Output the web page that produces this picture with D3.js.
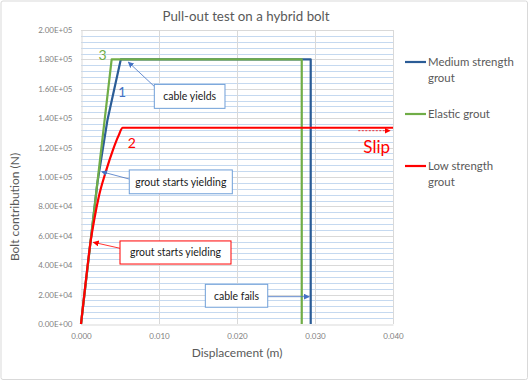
<!DOCTYPE html>
<html>
<head>
<meta charset="utf-8">
<script src="https://cdn.jsdelivr.net/npm/d3@7"></script>
<style>
  html, body { margin: 0; padding: 0; background: #ffffff; }
  svg { display: block; font-family: Lato, "Open Sans", sans-serif; }
</style>
</head>
<body>
<svg id="chart" width="529" height="381"></svg>
<script>
// ---------------- data ----------------
const chartTitle = "Pull-out test on a hybrid bolt";
const xAxisTitle = "Displacement (m)";
const yAxisTitle = "Bolt contribution (N)";

const xTicks = [0, 0.01, 0.02, 0.03, 0.04];
const xTickLabels = ["0.000", "0.010", "0.020", "0.030", "0.040"];
const yTicks = [0, 20000, 40000, 60000, 80000, 100000, 120000, 140000, 160000, 180000, 200000];
const yTickLabels = ["0.00E+00", "2.00E+04", "4.00E+04", "6.00E+04", "8.00E+04", "1.00E+05",
                     "1.20E+05", "1.40E+05", "1.60E+05", "1.80E+05", "2.00E+05"];

const seriesNames = ["Medium strength grout", "Elastic grout", "Low strength grout"];
const seriesColors = ["#2b5c96", "#70ad47", "#ff0000"];

const mediumX = [0, 0.0021, 0.0034, 0.0051, 0.02945, 0.02945];
const mediumY = [0, 96000, 139000, 180000, 180000, 0];

const elasticX = [0, 0.00393, 0.0283, 0.0283];
const elasticY = [0, 180000, 180000, 0];

const lowX = [0, 0.0007, 0.0012, 0.0017, 0.0023, 0.0032, 0.0041, 0.0048, 0.00535, 0.040];
const lowY = [0, 33000, 55000, 71000, 87000, 104000, 118500, 128000, 133500, 133500];

// annotation boxes (data coordinates: x0, x1, yTop, yBottom) with arrows (from -> to)
const boxTexts = ["cable yields", "grout starts yielding", "grout starts yielding", "cable fails"];
const boxColors = ["#6f9fd8", "#6f9fd8", "#ff0000", "#6f9fd8"];
const arrowColors = ["#4472c4", "#4472c4", "#ff0000", "#4472c4"];
const boxX0 = [0.0094, 0.00619, 0.0050, 0.01594];
const boxX1 = [0.01846, 0.0194, 0.01923, 0.02394];
const boxYTop = [163000, 104800, 56500, 27000];
const boxYBot = [146700, 88600, 40800, 11400];
const arrowFromX = [0.0094, 0.00619, 0.0050, 0.02394];
const arrowFromY = [161600, 98600, 51500, 18600];
const arrowToX = [0.00606, 0.00265, 0.00158, 0.02927];
const arrowToY = [178200, 103600, 55600, 18600];

// curve labels
const curveLabels = ["3", "1", "2"];
const curveLabelColors = ["#70ad47", "#4472c4", "#ff0000"];
const curveLabelX = [0.00278, 0.00526, 0.0065];
const curveLabelY = [183000, 157500, 122900];

// slip annotation
const slipText = "Slip";
const slipArrowX = [0.03555, 0.03962];
const slipArrowY = 131500;
const slipTextX = 0.03791;
const slipTextY = 116300;

// ---------------- drawing ----------------
const svg = d3.select("#chart");
const W = 529, H = 381;
const plot = { left: 81, right: 393, top: 30, bottom: 324 };

svg.append("rect").attr("x", 1).attr("y", 1).attr("width", W - 2.5).attr("height", H - 2.5)
  .attr("rx", 2).attr("fill", "#ffffff").attr("stroke", "#d9d9d9").attr("stroke-width", 1);

const x = d3.scaleLinear().domain([0, 0.04]).range([plot.left, plot.right]);
const y = d3.scaleLinear().domain([0, 200000]).range([plot.bottom, plot.top]);

// minor horizontal gridlines
const minorY = d3.range(0, 200001, 4000).filter(v => v % 20000 !== 0);
svg.append("g").selectAll("line").data(minorY).join("line")
  .attr("x1", plot.left).attr("x2", plot.right)
  .attr("y1", d => Math.round(y(d)) + 0.5).attr("y2", d => Math.round(y(d)) + 0.5)
  .attr("stroke", "#c5d9f0").attr("stroke-width", 1);

// major gridlines
svg.append("g").selectAll("line").data(yTicks.slice(1)).join("line")
  .attr("x1", plot.left).attr("x2", plot.right)
  .attr("y1", d => Math.round(y(d)) + 0.5).attr("y2", d => Math.round(y(d)) + 0.5)
  .attr("stroke", "#d9d9d9").attr("stroke-width", 1);
svg.append("g").selectAll("line").data(xTicks.slice(1)).join("line")
  .attr("x1", d => Math.round(x(d)) + 0.5).attr("x2", d => Math.round(x(d)) + 0.5)
  .attr("y1", plot.top).attr("y2", plot.bottom)
  .attr("stroke", "#d9d9d9").attr("stroke-width", 1);

// axes
const yAxis = d3.axisLeft(y).tickValues(yTicks).tickSize(0).tickPadding(9)
  .tickFormat((d, i) => yTickLabels[i]);
const gy = svg.append("g").attr("transform", `translate(${plot.left + 0.5},0)`).call(yAxis);
gy.select(".domain").attr("stroke", "#d9d9d9");
gy.selectAll("text").attr("fill", "#7f7f7f").attr("font-size", 8).attr("font-family", "Lato, sans-serif");

const xAxis = d3.axisBottom(x).tickValues(xTicks).tickSize(0).tickPadding(9)
  .tickFormat((d, i) => xTickLabels[i]);
const gx = svg.append("g").attr("transform", `translate(0,${plot.bottom + 0.5})`).call(xAxis);
gx.select(".domain").attr("stroke", "#d9d9d9");
gx.selectAll("text").attr("fill", "#7f7f7f").attr("font-size", 8).attr("font-family", "Lato, sans-serif");

// titles
svg.append("text").attr("x", 246).attr("y", 20.5).attr("text-anchor", "middle")
  .attr("font-size", 13.3).attr("fill", "#595959").text(chartTitle);
svg.append("text").attr("x", 237).attr("y", 357).attr("text-anchor", "middle")
  .attr("font-size", 12).attr("fill", "#595959").text(xAxisTitle);
svg.append("text").attr("transform", "translate(19,207) rotate(-90)").attr("text-anchor", "middle")
  .attr("font-size", 12).attr("fill", "#595959").text(yAxisTitle);

// series
const line = d3.line().x(d => x(d[0])).y(d => y(d[1]));
const smoothLine = d3.line().x(d => x(d[0])).y(d => y(d[1])).curve(d3.curveMonotoneX);
const series = [
  d3.zip(mediumX, mediumY),
  d3.zip(elasticX, elasticY),
  d3.zip(lowX, lowY)
];
[0, 1, 2].forEach(i => {
  svg.append("path").datum(series[i]).attr("d", i === 2 ? smoothLine : line)
    .attr("fill", "none").attr("stroke", seriesColors[i]).attr("stroke-width", 2.2)
    .attr("stroke-linejoin", "round");
});

// arrow markers
const defs = svg.append("defs");
function marker(id, color) {
  defs.append("marker").attr("id", id).attr("viewBox", "0 0 10 10")
    .attr("refX", 9).attr("refY", 5).attr("markerWidth", 6).attr("markerHeight", 6)
    .attr("orient", "auto-start-reverse").attr("markerUnits", "userSpaceOnUse")
    .append("path").attr("d", "M0,0 L10,5 L0,10 z").attr("fill", color);
}
marker("ah-blue", "#4472c4");
marker("ah-red", "#ff0000");

// annotation boxes
boxTexts.forEach((t, i) => {
  const bx0 = x(boxX0[i]), bx1 = x(boxX1[i]), by0 = y(boxYTop[i]), by1 = y(boxYBot[i]);
  svg.append("line")
    .attr("x1", x(arrowFromX[i])).attr("y1", y(arrowFromY[i]))
    .attr("x2", x(arrowToX[i])).attr("y2", y(arrowToY[i]))
    .attr("stroke", arrowColors[i]).attr("stroke-width", 0.8)
    .attr("marker-end", arrowColors[i] === "#ff0000" ? "url(#ah-red)" : "url(#ah-blue)");
  svg.append("rect").attr("x", bx0).attr("y", by0).attr("width", bx1 - bx0).attr("height", by1 - by0)
    .attr("fill", "#ffffff").attr("stroke", boxColors[i]).attr("stroke-width", 1);
  svg.append("text").attr("x", (bx0 + bx1) / 2).attr("y", (by0 + by1) / 2 + 3.8)
    .attr("text-anchor", "middle").attr("font-size", 10.5).attr("fill", "#1a1a1a").text(t);
});

// curve labels
curveLabels.forEach((t, i) => {
  svg.append("text").attr("x", x(curveLabelX[i])).attr("y", y(curveLabelY[i]) + 5)
    .attr("text-anchor", "middle").attr("font-size", 14).attr("fill", curveLabelColors[i]).text(t);
});

// slip arrow and text
svg.append("line").attr("x1", x(slipArrowX[0])).attr("x2", x(slipArrowX[1]))
  .attr("y1", y(slipArrowY)).attr("y2", y(slipArrowY))
  .attr("stroke", "#ff0000").attr("stroke-width", 0.8).attr("stroke-dasharray", "2,1.5")
  .attr("marker-end", "url(#ah-red)");
svg.append("text").attr("x", x(slipTextX)).attr("y", y(slipTextY)).attr("text-anchor", "middle")
  .attr("font-size", 17).attr("fill", "#ff0000").text(slipText);

// legend
const legendRows = [
  { lines: ["Medium strength", "grout"], y: 62 },
  { lines: ["Elastic grout"], y: 114 },
  { lines: ["Low strength", "grout"], y: 166 }
];
legendRows.forEach((r, i) => {
  svg.append("line").attr("x1", 405).attr("x2", 426).attr("y1", r.y).attr("y2", r.y)
    .attr("stroke", seriesColors[i]).attr("stroke-width", 2.2);
  r.lines.forEach((l, j) => {
    svg.append("text").attr("x", 428).attr("y", r.y + 4 + j * 16)
      .attr("font-size", 11.4).attr("fill", "#595959").text(l);
  });
});
</script>
</body>
</html>
